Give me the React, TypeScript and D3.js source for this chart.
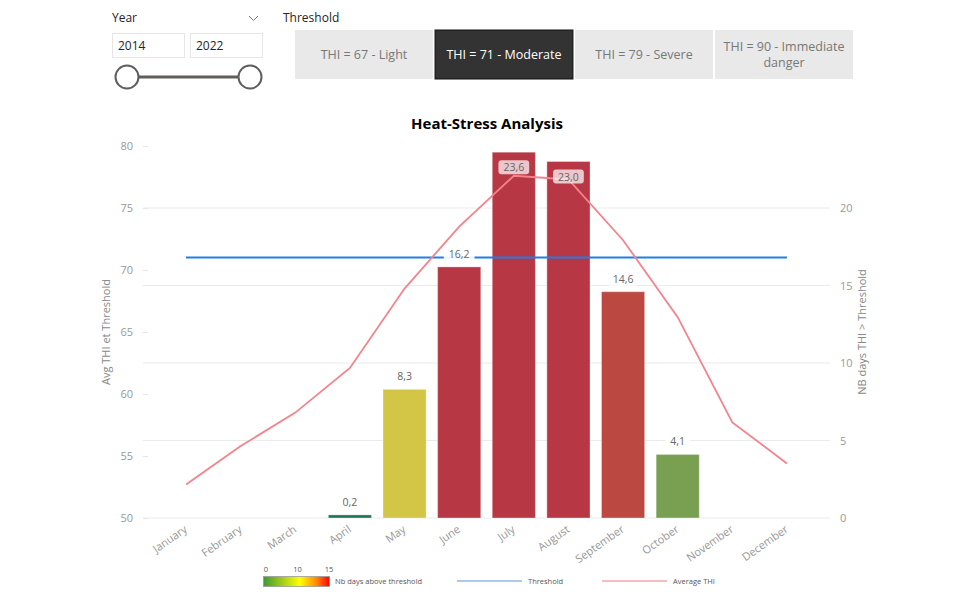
import React, { useEffect, useRef } from 'react';
import * as d3 from 'd3';

// chart values
const months = ['January', 'February', 'March', 'April', 'May', 'June', 'July', 'August', 'September', 'October', 'November', 'December'];
const avgThi = [52.7, 55.8, 58.5, 62.1, 68.5, 73.5, 77.6, 77.3, 72.4, 66.2, 57.7, 54.4];
const daysAbove = [0, 0, 0, 0.2, 8.3, 16.2, 23.6, 23.0, 14.6, 4.1, 0, 0];
const thresholdValue = 71;
const leftTicks = [50, 55, 60, 65, 70, 75, 80];
const rightTicks = [0, 5, 10, 15, 20];
const legendTicks = [0, 10, 15];
const thresholdOptions = ['THI = 67 - Light', 'THI = 71 - Moderate', 'THI = 79 - Severe', 'THI = 90 - Immediate danger'];
const selectedThreshold = 1;
const yearRange = [2014, 2022];

const FONT = "'Segoe UI', 'Open Sans', 'Noto Sans', sans-serif";

const App = () => {
  const ref = useRef<SVGSVGElement | null>(null);

  useEffect(() => {
    const svg = d3.select(ref.current);
    svg.selectAll('*').remove();

    // ---- slicers on top ----
    const top = svg.append('g').attr('font-family', FONT);
    top.append('text').attr('x', 112).attr('y', 22).attr('font-size', 12).attr('fill', '#252423').text('Year');
    top.append('path').attr('d', 'M249,16 L253.5,20.5 L258,16').attr('fill', 'none').attr('stroke', '#777').attr('stroke-width', 1);
    yearRange.forEach((yr, i) => {
      const bx = 112 + i * 78;
      top.append('rect').attr('x', bx + 0.5).attr('y', 33.5).attr('width', 72).attr('height', 24)
        .attr('fill', '#fff').attr('stroke', '#e6e6e6');
      top.append('text').attr('x', bx + 6).attr('y', 50).attr('font-size', 12).attr('fill', '#252423').text(yr);
    });
    top.append('line').attr('x1', 127).attr('x2', 250).attr('y1', 77).attr('y2', 77)
      .attr('stroke', '#605e5c').attr('stroke-width', 3);
    [127, 250].forEach(cx => {
      top.append('circle').attr('cx', cx).attr('cy', 77).attr('r', 11.5)
        .attr('fill', '#fff').attr('stroke', '#605e5c').attr('stroke-width', 2);
    });

    top.append('text').attr('x', 283).attr('y', 22).attr('font-size', 12).attr('fill', '#252423').text('Threshold');
    const btn = d3.scaleBand().domain(thresholdOptions).range([295, 853]).paddingInner(0.015);
    thresholdOptions.forEach((label, i) => {
      const sel = i === selectedThreshold;
      const bx = btn(label) as number;
      top.append('rect').attr('x', bx).attr('y', 30).attr('width', btn.bandwidth()).attr('height', 49)
        .attr('fill', sel ? '#333333' : '#e9e9e9').attr('stroke', sel ? '#111' : 'none');
      const words = label.split(' - ');
      const t = top.append('text').attr('text-anchor', 'middle').attr('font-size', 12.5)
        .attr('fill', sel ? '#fff' : '#777');
      if (label.length > 22) {
        t.append('tspan').attr('x', bx + btn.bandwidth() / 2).attr('y', 51).text(`${words[0]} - ${words[1].split(' ')[0]}`);
        t.append('tspan').attr('x', bx + btn.bandwidth() / 2).attr('y', 67).text(words[1].split(' ').slice(1).join(' '));
      } else {
        t.attr('x', bx + btn.bandwidth() / 2).attr('y', 59).text(label);
      }
    });

    // ---- chart ----
    const plotLeft = 143;
    const plotRight = 830;
    const yTop = 146;
    const yBottom = 518;

    const x = d3.scaleBand().domain(months).range([159, 814]).paddingInner(0.21).paddingOuter(0.1);
    const yLeft = d3.scaleLinear().domain([50, 80]).range([yBottom, yTop]);
    const yRight = d3.scaleLinear().domain([0, 24]).range([yBottom, yTop]);
    const color = d3.scaleLinear<string>()
      .domain([0, 4.1, 8.3, 14.6, 16.2])
      .range(['#1b7258', '#78a050', '#d3c545', '#bc4842', '#b73744'])
      .clamp(true);
    const cx = (m: string) => (x(m) as number) + x.bandwidth() / 2;

    const g = svg.append('g').attr('font-family', FONT);

    g.append('text').attr('x', 487).attr('y', 129).attr('text-anchor', 'middle')
      .attr('font-size', 15).attr('font-weight', 700).attr('fill', '#000').text('Heat-Stress Analysis');

    // gridlines from the right axis
    g.append('g').selectAll('line').data(rightTicks).enter().append('line')
      .attr('x1', plotLeft).attr('x2', plotRight)
      .attr('y1', d => yRight(d)).attr('y2', d => yRight(d))
      .attr('stroke', '#ebebeb').attr('stroke-width', 1);

    // left axis
    const left = g.append('g').attr('transform', `translate(${plotLeft},0)`)
      .call(d3.axisLeft(yLeft).tickValues(leftTicks).tickSize(0).tickPadding(10));
    left.select('.domain').remove();
    left.selectAll('text').attr('font-family', FONT).attr('font-size', 11).attr('fill', '#999');
    left.selectAll('.tick').append('line').attr('x1', 0).attr('x2', 5).attr('stroke', '#e6e6e6');

    // right axis
    const right = g.append('g').attr('transform', `translate(${plotRight},0)`)
      .call(d3.axisRight(yRight).tickValues(rightTicks).tickSize(0).tickPadding(10));
    right.select('.domain').remove();
    right.selectAll('text').attr('font-family', FONT).attr('font-size', 11).attr('fill', '#999');

    // x axis
    const bottom = g.append('g').attr('transform', `translate(0,${yBottom})`)
      .call(d3.axisBottom(x).tickSize(0).tickPadding(0));
    bottom.select('.domain').remove();
    bottom.selectAll('text')
      .attr('font-family', FONT).attr('font-size', 11).attr('fill', '#999')
      .attr('text-anchor', 'end').attr('dy', 0)
      .attr('transform', 'translate(2,13) rotate(-35)');

    // axis titles
    g.append('text').attr('transform', `translate(110,${(yTop + yBottom) / 2}) rotate(-90)`)
      .attr('text-anchor', 'middle').attr('font-size', 11).attr('fill', '#888').text('Avg THI et Threshold');
    g.append('text').attr('transform', `translate(866,${(yTop + yBottom) / 2}) rotate(-90)`)
      .attr('text-anchor', 'middle').attr('font-size', 11).attr('fill', '#888').text('NB days THI > Threshold');

    // bars
    const barData = months.map((m, i) => ({ m, v: daysAbove[i] })).filter(d => d.v > 0);
    g.append('g').selectAll('rect').data(barData).enter().append('rect')
      .attr('x', d => x(d.m) as number)
      .attr('y', d => yRight(d.v))
      .attr('width', x.bandwidth())
      .attr('height', d => yBottom - yRight(d.v))
      .attr('fill', d => color(d.v))
      .attr('stroke', '#fff').attr('stroke-opacity', 0.35).attr('stroke-width', 1);

    // threshold line
    g.append('line')
      .attr('x1', cx(months[0])).attr('x2', cx(months[months.length - 1]))
      .attr('y1', yLeft(thresholdValue)).attr('y2', yLeft(thresholdValue))
      .attr('stroke', '#1f7fe6').attr('stroke-width', 2);

    // average THI line
    const line = d3.line<number>().x((_, i) => cx(months[i])).y(d => yLeft(d));
    g.append('path').datum(avgThi).attr('d', line)
      .attr('fill', 'none').attr('stroke', '#f4838c').attr('stroke-width', 1.8);

    // data labels
    const fmt = (v: number) => v.toFixed(1).replace('.', ',');
    barData.forEach(d => {
      const inside = yRight(d.v) < yTop + 20;
      const ly = inside ? yRight(d.v) + 15 : yRight(d.v) - 13;
      const label = g.append('g');
      const txt = label.append('text').attr('x', cx(d.m)).attr('y', ly + 4)
        .attr('text-anchor', 'middle').attr('font-size', 10.5).attr('fill', '#666').text(fmt(d.v));
      const w = (txt.node() as SVGTextElement).getComputedTextLength() + 10;
      label.insert('rect', 'text').attr('x', cx(d.m) - w / 2).attr('y', ly - 7).attr('width', w).attr('height', 14)
        .attr('rx', 3)
        .attr('fill', '#fff').attr('fill-opacity', inside ? 0.72 : 0.9);
    });

    // legend
    const lg = svg.append('g').attr('font-family', FONT).attr('font-size', 7.5).attr('fill', '#555');
    const grad = svg.append('defs').append('linearGradient').attr('id', 'legend-grad');
    [['0%', '#3f9a2e'], ['30%', '#a8cf1c'], ['55%', '#ffff00'], ['80%', '#ff8a00'], ['100%', '#ff0000']].forEach(([o, c]) => {
      grad.append('stop').attr('offset', o).attr('stop-color', c);
    });
    const lx = d3.scalePoint<number>().domain(legendTicks).range([266, 329]);
    lg.append('rect').attr('x', 263.5).attr('y', 576.5).attr('width', 66).attr('height', 10)
      .attr('fill', 'url(#legend-grad)').attr('stroke', '#999').attr('stroke-width', 0.8);
    legendTicks.forEach(t => {
      lg.append('text').attr('x', lx(t) as number).attr('y', 572).attr('text-anchor', 'middle').text(t);
    });
    lg.append('text').attr('x', 335).attr('y', 584).text('Nb days above threshold');
    lg.append('line').attr('x1', 457).attr('x2', 522).attr('y1', 581).attr('y2', 581).attr('stroke', '#8fb8e6').attr('stroke-width', 1.5);
    lg.append('text').attr('x', 528).attr('y', 584).text('Threshold');
    lg.append('line').attr('x1', 602).attr('x2', 667).attr('y1', 581).attr('y2', 581).attr('stroke', '#f7a6ab').attr('stroke-width', 1.5);
    lg.append('text').attr('x', 673).attr('y', 584).text('Average THI');
  }, []);

  return (
    <div style={{ position: 'absolute', left: 0, top: 0, background: '#fff' }}>
      <svg ref={ref} width={954} height={600} style={{ display: 'block' }} />
    </div>
  );
};

export default App;
